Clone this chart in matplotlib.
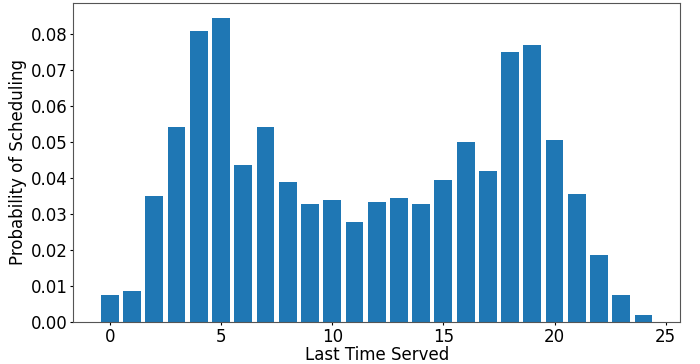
import matplotlib
matplotlib.use("Agg")
import matplotlib.pyplot as plt
import numpy as np

# scheduling probability for each last-served time slot
last_served = np.arange(25)
probability = [0.0075, 0.0086, 0.0350, 0.0542, 0.0809, 0.0845, 0.0437, 0.0542,
               0.0389, 0.0328, 0.0339, 0.0278, 0.0334, 0.0345, 0.0328, 0.0395,
               0.0500, 0.0420, 0.0751, 0.0770, 0.0506, 0.0356, 0.0186, 0.0075,
               0.0019]

fig = plt.figure(figsize=(7, 3.64), dpi=100)
ax = fig.add_axes([0.1048, 0.1154, 0.8666, 0.8772])
ax.bar(last_served, probability, color="#1f77b4")
ax.set_xlabel("Last Time Served", fontsize=12, labelpad=0.5)
ax.set_ylabel("Probability of Scheduling", fontsize=12, labelpad=3)
ax.tick_params(labelsize=12, length=2.2, pad=1.8)
ax.set_yticks(np.arange(0, 0.09, 0.01))
for s in ax.spines.values():
    s.set_color("#555555")

fig.savefig("out.png", dpi=100)
